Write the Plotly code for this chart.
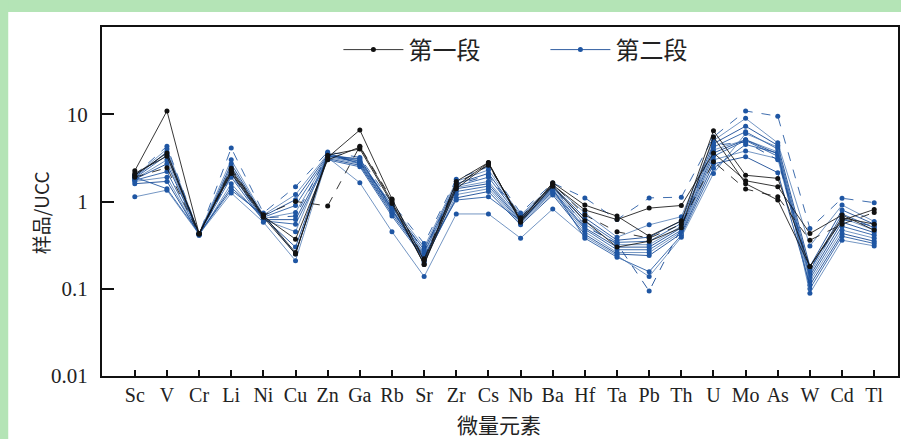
import plotly.graph_objects as go

elements = ["Sc", "V", "Cr", "Li", "Ni", "Cu", "Zn", "Ga", "Rb", "Sr", "Zr", "Cs",
            "Nb", "Ba", "Hf", "Ta", "Pb", "Th", "U", "Mo", "As", "W", "Cd", "Tl"]

# 第一段 samples (sample / UCC)
k1 = [2.25, 10.9, 0.43, 2.3, 0.70, 0.26, 3.2, 6.6, 1.07, 0.21, 1.5, 2.78, 0.60, 1.64, 0.91, 0.68, 0.40, 0.60, 6.47, 2.0, 1.84, 0.18, 0.61, 0.81]
k2 = [2.0, 3.6, 0.43, 2.2, 0.68, 0.37, 3.0, 4.2, 1.0, 0.19, 1.4, 2.7, 0.62, 1.55, 0.80, 0.62, 0.84, 0.90, 3.6, 1.73, 1.48, 0.43, 0.70, 0.47]
k3 = [1.9, 2.44, 0.42, 2.4, 0.70, 1.0, 0.89, 4.3, 1.05, 0.22, 1.6, 2.6, 0.65, 1.6, 0.70, 0.45, 0.38, 0.55, 2.86, 1.39, 1.13, 0.36, 0.55, 0.75]
k4 = [2.1, 3.3, 0.43, 2.1, 0.66, 0.25, 3.4, 4.0, 0.95, 0.19, 1.7, 2.8, 0.58, 1.5, 0.60, 0.30, 0.35, 0.50, 5.5, 1.6, 1.04, 0.18, 0.65, 0.55]

# 第二段 samples (sample / UCC)
b1 = [2.0, 4.3, 0.42, 4.1, 0.74, 1.48, 3.7, 3.2, 0.96, 0.33, 1.8, 2.5, 0.74, 1.63, 1.1, 0.62, 1.1, 1.12, 5.5, 10.9, 9.5, 0.49, 1.09, 0.97]
b2 = [1.95, 4.0, 0.43, 3.0, 0.70, 1.2, 3.5, 3.0, 0.90, 0.30, 1.7, 2.3, 0.70, 1.55, 0.74, 0.39, 0.54, 0.67, 5.0, 8.97, 4.7, 0.31, 0.91, 0.59]
b3 = [1.9, 3.7, 0.42, 2.7, 0.68, 1.05, 3.4, 2.9, 0.85, 0.28, 1.6, 2.1, 0.67, 1.5, 0.65, 0.36, 0.39, 0.60, 4.6, 7.3, 4.4, 0.18, 0.80, 0.55]
b4 = [1.85, 3.4, 0.41, 2.5, 0.66, 0.9, 3.3, 2.8, 0.80, 0.26, 1.5, 1.9, 0.64, 1.45, 0.60, 0.34, 0.35, 0.56, 4.2, 6.3, 4.0, 0.16, 0.72, 0.50]
b5 = [1.8, 3.0, 0.42, 2.3, 0.64, 0.75, 3.2, 2.7, 0.75, 0.25, 1.45, 1.7, 0.62, 1.4, 0.55, 0.32, 0.32, 0.52, 3.9, 5.1, 3.7, 0.15, 0.65, 0.47]
b6 = [1.8, 2.7, 0.43, 2.1, 0.62, 0.62, 3.1, 2.6, 0.72, 0.23, 1.4, 1.6, 0.60, 1.35, 0.50, 0.30, 0.30, 0.50, 3.6, 5.1, 3.5, 0.14, 0.58, 0.44]
b7 = [1.75, 2.2, 0.42, 1.9, 0.60, 0.55, 3.0, 2.5, 0.68, 0.22, 1.3, 1.5, 0.58, 1.3, 0.48, 0.28, 0.28, 0.47, 3.3, 5.0, 3.3, 0.13, 0.52, 0.41]
b8 = [1.7, 1.9, 0.41, 1.6, 0.62, 0.45, 3.5, 2.9, 0.90, 0.20, 1.2, 1.4, 0.56, 1.25, 0.45, 0.26, 0.26, 0.45, 3.0, 3.8, 3.1, 0.12, 0.47, 0.38]
b9 = [1.6, 1.7, 0.42, 1.45, 0.66, 0.30, 3.3, 3.1, 0.82, 0.21, 1.1, 1.3, 0.54, 1.19, 0.42, 0.25, 0.24, 0.43, 2.7, 3.26, 2.14, 0.11, 0.43, 0.35]
b10 = [1.9, 1.4, 0.43, 1.35, 0.70, 0.25, 3.6, 2.7, 0.78, 0.24, 1.04, 1.13, 0.60, 1.4, 0.38, 0.23, 0.157, 0.41, 2.4, 4.5, 3.6, 0.10, 0.40, 0.33]
b11 = [1.13, 1.35, 0.42, 1.25, 0.58, 0.21, 3.2, 1.64, 0.45, 0.138, 0.72, 0.72, 0.38, 0.82, 0.40, 0.24, 0.138, 0.39, 2.1, 6.0, 4.2, 0.089, 0.36, 0.31]
b12 = [2.0, 3.5, 0.42, 2.0, 0.65, 0.68, 3.4, 2.8, 0.88, 0.27, 1.55, 2.0, 0.65, 1.5, 0.52, 0.33, 0.094, 0.50, 4.4, 4.8, 3.0, 0.17, 0.62, 0.52]

y_tickvals = [0.01, 0.1, 1, 10]
y_ticktext = ["0.01", "0.1", "1", "10"]

seg1 = [k1, k2, k3, k4]
seg2 = [b1, b2, b3, b4, b5, b6, b7, b8, b9, b10, b11, b12]

fig = go.Figure()

blue_line_cols = ["rgba(30,85,160,0.85)", "rgba(70,115,175,0.75)", "rgba(25,75,150,0.9)"]
for i, s in enumerate(seg2):
    fig.add_trace(go.Scatter(
        x=elements, y=s, mode="lines+markers", name="第二段",
        legendgroup="2", showlegend=(i == 2), legendrank=2,
        line=dict(color=blue_line_cols[i % 3], width=1, dash=("dash" if i in (0, 11) else "solid")),
        marker=dict(color="#1f56a3", size=5, symbol="circle"),
    ))

for i, s in enumerate(seg1):
    fig.add_trace(go.Scatter(
        x=elements, y=s, mode="lines+markers", name="第一段",
        legendgroup="1", showlegend=(i == 0), legendrank=1,
        line=dict(color="rgba(20,20,20,0.85)", width=1, dash=("dash" if i == 2 else "solid")),
        marker=dict(color="#111111", size=5, symbol="circle"),
    ))

W, H = 901, 439
ml, mr, mt, mb = 102, 1, 27, 63
pw, ph = W - ml - mr, H - mt - mb

def px_x(p):
    return (p - ml) / pw

def px_y(p):
    return (H - mb - p) / ph

green = "#b4e4b6"
shapes = [
    dict(type="rect", xref="paper", yref="paper", x0=px_x(-5), x1=px_x(W + 5), y0=px_y(12), y1=px_y(-5),
         fillcolor=green, line=dict(width=0), layer="below"),
    dict(type="rect", xref="paper", yref="paper", x0=px_x(-5), x1=px_x(8), y0=px_y(H + 5), y1=px_y(-5),
         fillcolor=green, line=dict(width=0), layer="below"),
]

fig.update_layout(
    width=W, height=H,
    margin=dict(l=ml, r=mr, t=mt, b=mb),
    paper_bgcolor="white", plot_bgcolor="white",
    shapes=shapes,
    showlegend=True,
    legend=dict(orientation="h", x=px_x(339), y=px_y(50), xanchor="left", yanchor="middle",
                font=dict(family="Noto Sans CJK SC", size=24, color="#222"),
                bgcolor="rgba(0,0,0,0)", entrywidth=132, entrywidthmode="pixels",
                itemwidth=60, traceorder="normal"),
    xaxis=dict(type="category", range=[-1.02, 23.74], showgrid=False, zeroline=False,
               showline=True, linecolor="#111", linewidth=2, mirror=True,
               ticks="inside", ticklen=6, tickwidth=1.5, tickcolor="#111",
               tickfont=dict(family="Liberation Serif", size=20, color="#222")),
    yaxis=dict(type="log", range=[-2, 2], showgrid=False, zeroline=False,
               showline=True, linecolor="#111", linewidth=2, mirror=True,
               ticks="inside", ticklen=12, tickwidth=1.5, tickcolor="#111",
               tickvals=y_tickvals, ticktext=y_ticktext, ticklabelstandoff=8,
               tickfont=dict(family="Liberation Serif", size=21, color="#222")),
    annotations=[
        dict(text="样品/UCC", xref="paper", yref="paper", x=px_x(40), y=px_y(213),
             textangle=-90, showarrow=False, xanchor="center", yanchor="middle",
             font=dict(family="Noto Sans CJK SC", size=19, color="#222")),
        dict(text="微量元素", xref="paper", yref="paper", x=px_x(500), y=px_y(424),
             showarrow=False, xanchor="center", yanchor="middle",
             font=dict(family="Noto Sans CJK SC", size=21, color="#222")),
    ],
)

# remove the default 8px page margin so the figure sits at the window's top-left corner
fig.write_html("out.html", config={"displayModeBar": False},
               post_script="document.body.style.margin='0';document.body.style.overflow='hidden';")
